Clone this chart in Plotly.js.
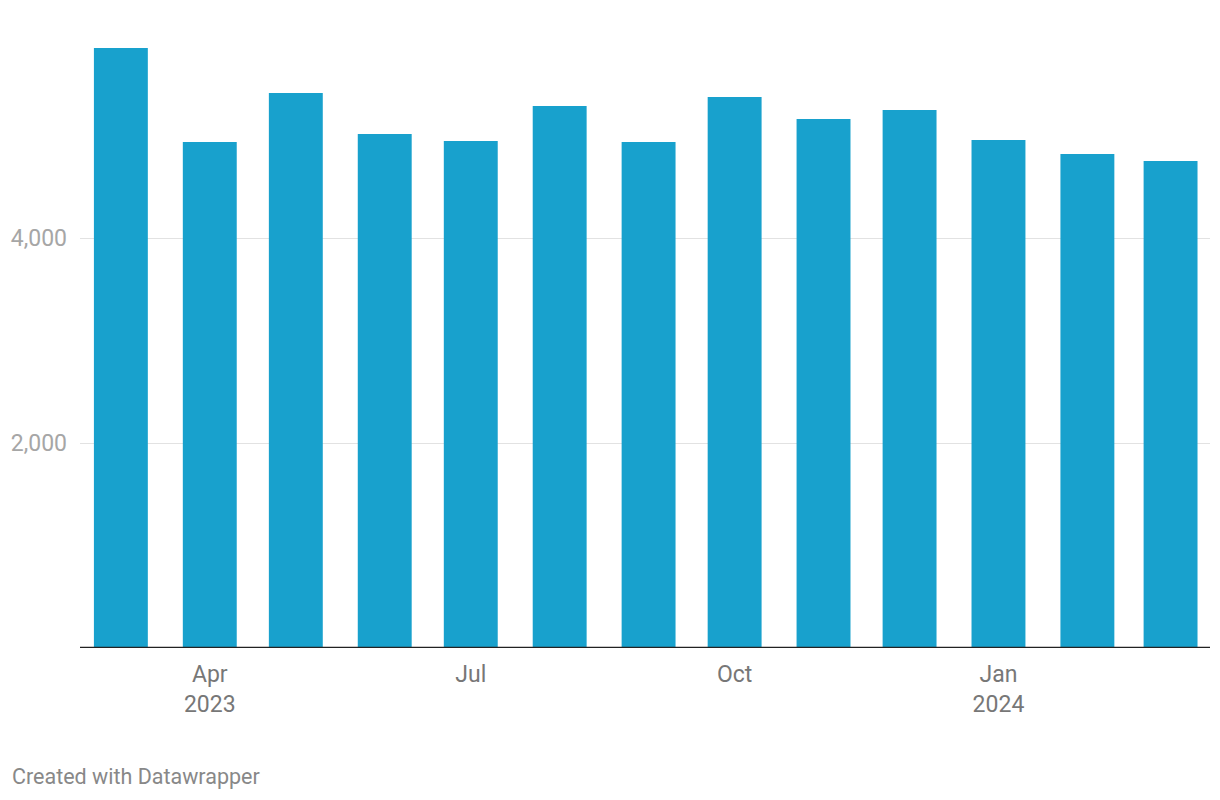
<!DOCTYPE html>
<html>
<head>
<meta charset="utf-8">
<script src="https://cdn.plot.ly/plotly-3.0.1.min.js"></script>
<style>
  html, body { margin: 0; padding: 0; background: #fff; }
  #chart { width: 1220px; height: 800px; }
</style>
</head>
<body>
<div id="chart"></div>
<script>
const months = ["2023-03-01","2023-04-01","2023-05-01","2023-06-01","2023-07-01","2023-08-01","2023-09-01",
                "2023-10-01","2023-11-01","2023-12-01","2024-01-01","2024-02-01","2024-03-01"];
const values = [5854, 4937, 5415, 5015, 4946, 5288, 4937, 5376, 5161, 5249, 4956, 4820, 4751];
const tickVals = ["2023-04-01","2023-07-01","2023-10-01","2024-01-01"];
const tickText = ["Apr<br>2023","Jul","Oct","Jan<br>2024"];
const yTicks = [2000, 4000];
const yTickText = ["2,000", "4,000"];
const footer = "Created with Datawrapper";

const W = 1220, H = 800;
const m = {l: 80, r: 10, t: 38, b: 152};
const pw = W - m.l - m.r, ph = H - m.t - m.b;
const DAY = 86400000;

const trace = {
  type: "bar",
  x: months,
  y: values,
  width: months.map(() => 18.8 * DAY),
  marker: {color: "#18a1cd", line: {width: 0}},
  hoverinfo: "skip"
};

const layout = {
  width: W, height: H,
  margin: m,
  paper_bgcolor: "#fff",
  plot_bgcolor: "#fff",
  showlegend: false,
  font: {family: "Roboto, sans-serif"},
  xaxis: {
    type: "date",
    range: ["2023-02-14T18:00", "2024-03-14T18:00"],
    tickvals: tickVals,
    ticktext: tickText,
    ticks: "",
    showgrid: false,
    zeroline: false,
    showline: false,
    tickfont: {size: 23, color: "#777777", family: "Roboto, sans-serif"},
    ticklabelstandoff: 10
  },
  yaxis: {
    range: [0, ph / 0.1025],
    tickvals: yTicks,
    ticktext: yTickText,
    ticks: "",
    showgrid: true,
    gridcolor: "#e2e2e2",
    gridwidth: 1,
    zeroline: false,
    showline: false,
    tickfont: {size: 23, color: "#a6a6a6", family: "Roboto, sans-serif"},
    ticklabelstandoff: 12
  },
  shapes: [{
    type: "line", xref: "paper", yref: "y",
    x0: 0, x1: 1, y0: 0, y1: 0,
    line: {color: "#222222", width: 2.5}
  }],
  annotations: [{
    text: footer,
    xref: "paper", yref: "paper",
    x: (10 - m.l) / pw, y: -(776 - (H - m.b)) / ph,
    xanchor: "left", yanchor: "middle",
    showarrow: false,
    font: {size: 21.5, color: "#888888", family: "Roboto, sans-serif"}
  }]
};

Plotly.newPlot("chart", [trace], layout, {displayModeBar: false, staticPlot: true});
</script>
</body>
</html>
